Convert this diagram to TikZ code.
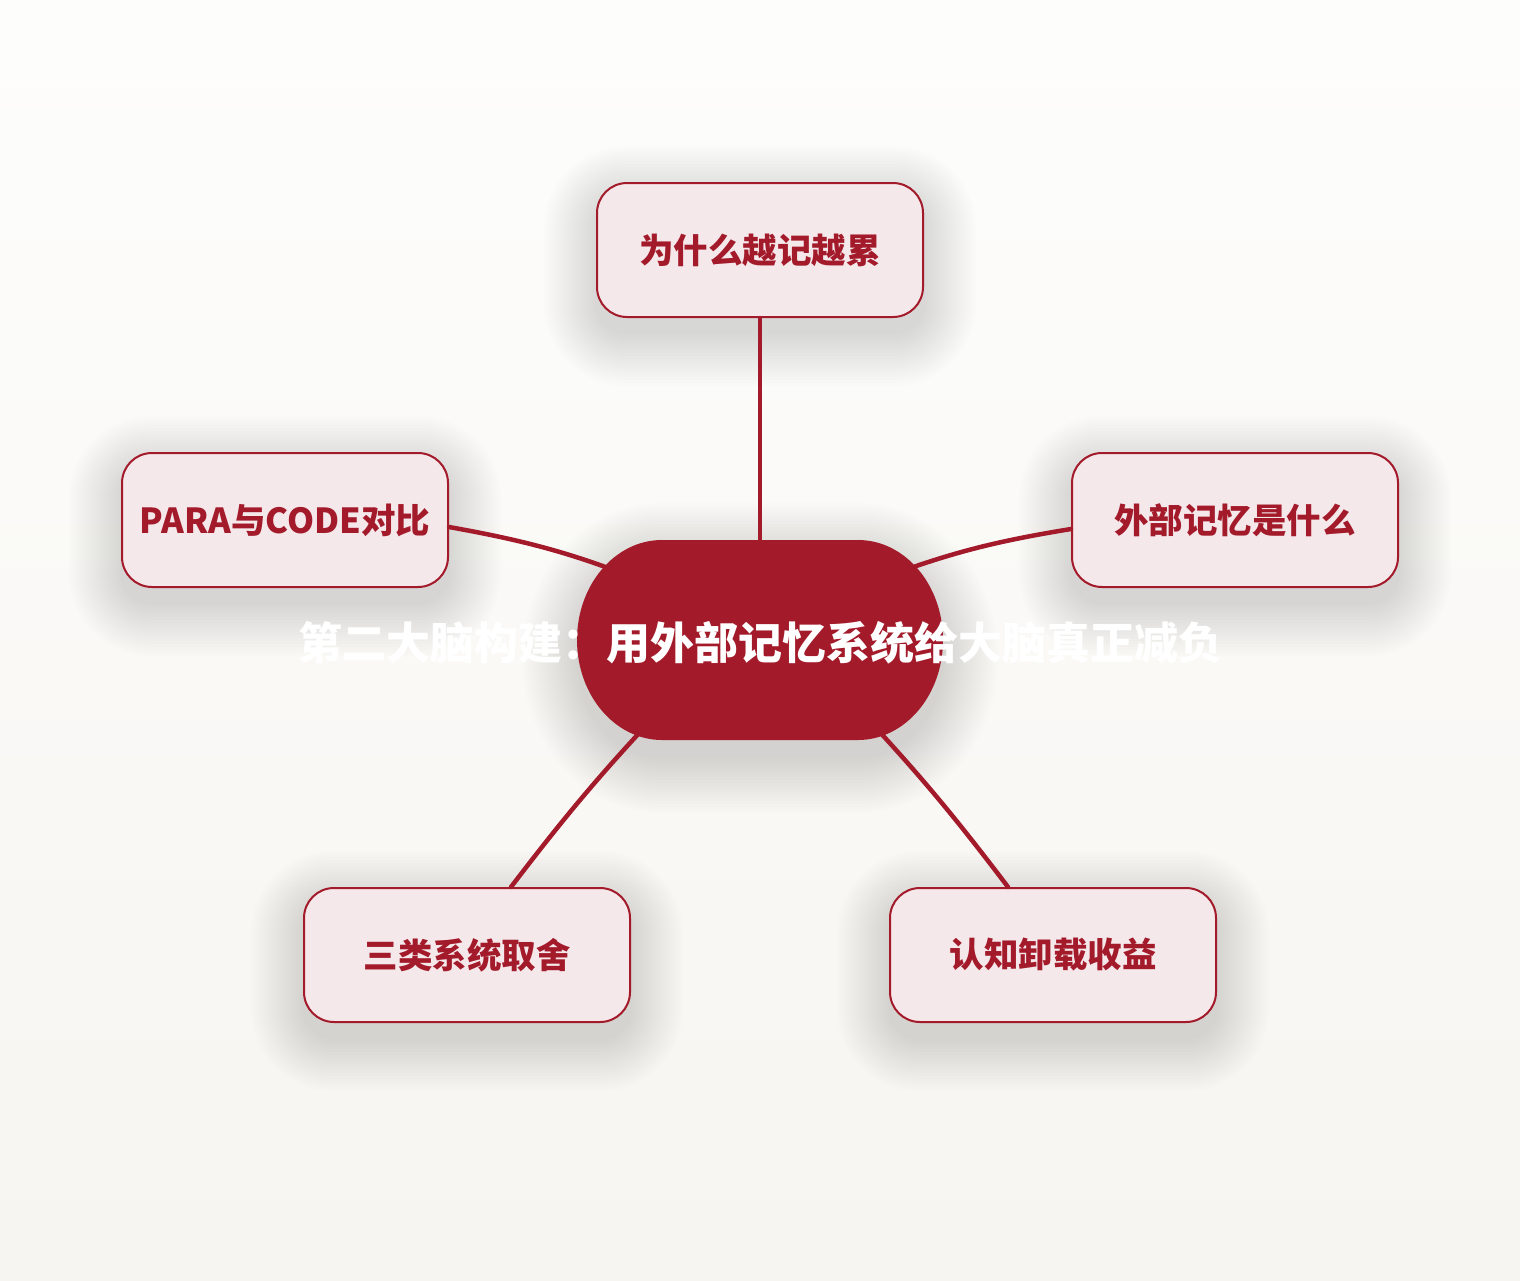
\documentclass[tikz,border=0pt]{standalone}
\usepackage{fontspec}
\newfontfamily\cjk{Noto Sans CJK SC}
\usetikzlibrary{calc}
\definecolor{dred}{HTML}{A31A2A}
\definecolor{boxfill}{HTML}{F5E8EB}
\definecolor{bgtop}{HTML}{FDFDFC}
\definecolor{bgbot}{HTML}{F7F5F1}
\pgfdeclarelayer{bglayer}
\pgfdeclarelayer{shadowlayer}
\pgfsetlayers{bglayer,shadowlayer,main}
\tikzset{
  topic/.style={draw=dred, line width=2pt, fill=boxfill, rounded corners=30pt,
    minimum width=326pt, minimum height=134pt, inner sep=0pt,
    font=\cjk\bfseries\fontsize{34.5}{40}\selectfont, text=dred},
  link/.style={draw=dred, line width=4.5pt, line cap=round},
  shadowstep/.style={fill=black, fill opacity=0.0065},
  titletext/.style={text=white, font=\cjk\bfseries\fontsize{44}{50}\selectfont, inner sep=0pt}
}
\newcommand\boxshadow[1]{%
  \foreach \r in {1,4,...,52}{%
    \fill[shadowstep, rounded corners=30pt+\r pt]
      ($(#1.south west)+(-\r,-\r-16)$) rectangle ($(#1.north east)+(\r,\r-16)$);
  }}
\begin{document}
\begin{tikzpicture}[x=1pt,y=1pt]
\useasboundingbox (0,0) rectangle (1520,-1280);
\begin{pgfonlayer}{bglayer}
\shade[top color=bgtop, bottom color=bgbot] (0,0) rectangle (1520,-1280);
\end{pgfonlayer}
% topic boxes
\node[topic] (T)  at (760,-250) {为什么越记越累};
\node[topic] (L)  at (285,-520) {PARA与CODE对比};
\node[topic] (R)  at (1235,-520) {外部记忆是什么};
\node[topic] (BL) at (467,-955) {三类系统取舍};
\node[topic] (BR) at (1053,-955) {认知卸载收益};
\begin{pgfonlayer}{shadowlayer}
\boxshadow{T}\boxshadow{L}\boxshadow{R}\boxshadow{BL}\boxshadow{BR}
\foreach \r in {1,4,...,55}{%
  \fill[shadowstep]
    (662,-540+\r-18) -- (858,-540+\r-18) arc[start angle=90, end angle=-90, x radius=85+\r, y radius=100+\r]
    -- (662,-740-\r-18) arc[start angle=270, end angle=90, x radius=85+\r, y radius=100+\r] -- cycle;
}
\end{pgfonlayer}
% hidden anchor points inside the central shape
\coordinate (cT)  at (760,-600);
\coordinate (cL)  at (660,-588);
\coordinate (cR)  at (862,-586);
\coordinate (cBL) at (670,-700);
\coordinate (cBR) at (850,-700);
% connectors
\draw[link] (T.south) -- (cT);
\draw[link] ($(L.east)+(0,-7)$) to[bend left=6] (cL);
\draw[link] ($(R.west)+(0,-9)$) to[bend right=6] (cR);
\draw[link] ($(BL.north)+(44,0)$) to[bend left=3] (cBL);
\draw[link] ($(BR.north)+(-45,0)$) to[bend right=3] (cBR);
% central shape
\path[fill=dred] (662,-540) -- (858,-540) arc[start angle=90, end angle=-90, x radius=85, y radius=100]
  -- (662,-740) arc[start angle=270, end angle=90, x radius=85, y radius=100] -- cycle;
\node[titletext] (C) at (760,-643) {第二大脑构建：用外部记忆系统给大脑真正减负};
\end{tikzpicture}
\end{document}
